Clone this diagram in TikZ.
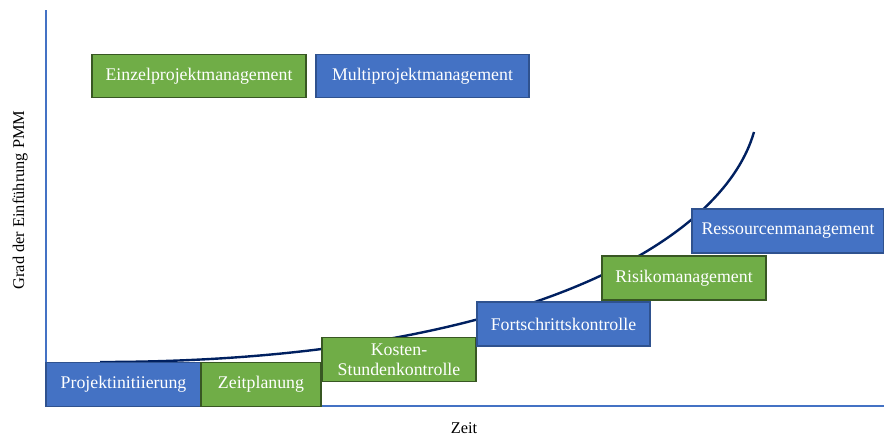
\documentclass[tikz,border=0pt]{standalone}
\usepackage{fontspec}
\setmainfont{Liberation Serif}
\usetikzlibrary{positioning}
\definecolor{pmmblue}{RGB}{68,114,196}
\definecolor{pmmbluedark}{RGB}{47,82,143}
\definecolor{pmmgreen}{RGB}{112,173,71}
\definecolor{pmmgreendark}{RGB}{56,87,35}
\definecolor{pmmnavy}{RGB}{0,32,96}
\tikzset{
  phase/.style={
    rectangle,
    line width=1.5pt,
    minimum height=44pt,
    inner sep=2pt,
    text=white,
    align=center,
    font=\fontsize{17.8}{20}\selectfont
  },
  einzel/.style={
    phase,
    draw=pmmgreendark,
    fill=pmmgreen
  },
  multi/.style={
    phase,
    draw=pmmbluedark,
    fill=pmmblue
  },
  axis/.style={
    draw=pmmblue,
    line width=2pt
  },
  axislabel/.style={
    font=\fontsize{16.4}{19}\selectfont
  }
}

\begin{document}
\begin{tikzpicture}[x=1pt, y=-1pt]
          \useasboundingbox (0,0) rectangle (884,437);
          % axes
          \coordinate (ytop) at (46,10);
          \coordinate (origin) at (46,406);
          \coordinate (xend) at (884,406);
          \draw[axis] (ytop) -- (origin) -- (xend);
          \node[axislabel, rotate=90] (ylabel) at (20,200) {Grad der Einführung PMM};
          \node[axislabel] (xlabel) at (464,428) {Zeit};

          % growth curve
          \coordinate (cstart) at (100,362);
          \coordinate (cend) at (754,132);
          \draw[pmmnavy, line width=2.4pt] (cstart) .. controls (500,362) and (720,250) .. (cend);

          % legend
          \node[einzel, minimum width=214pt, minimum height=43pt] (legeinzel) at (199,76) {Einzelprojektmanagement};
          \node[multi, minimum width=213pt, minimum height=43pt] (legmulti) at (422.5,76) {Multiprojektmanagement};

          % phases
          \node[multi, minimum width=155pt] (init) at (123.5,384.5) {Projektinitiierung};
          \node[einzel, minimum width=120pt] (zeit) at (261,384.5) {Zeitplanung};
          \node[einzel, minimum width=154pt] (kosten) at (399,359.5) {Kosten-\\Stundenkontrolle};
          \node[multi, minimum width=173pt] (fortschritt) at (563.5,324) {Fortschrittskontrolle};
          \node[einzel, minimum width=164pt] (risiko) at (684,278) {Risikomanagement};
          \node[multi, minimum width=192pt] (ressourcen) at (788,231) {Ressourcenmanagement};
        \end{tikzpicture}
\end{document}
